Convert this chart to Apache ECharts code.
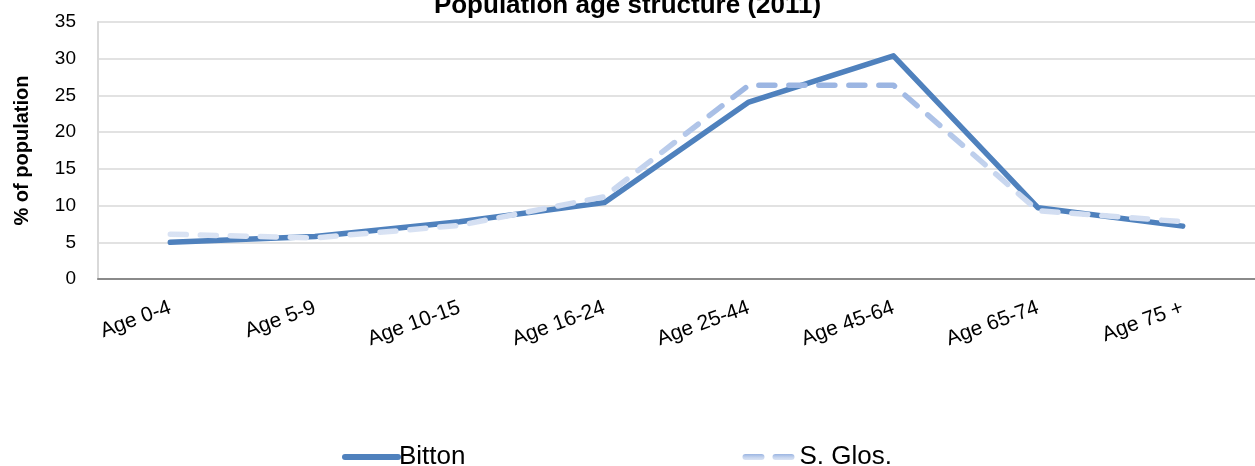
<!DOCTYPE html>
<html>
<head>
<meta charset="utf-8">
<script src="https://cdn.jsdelivr.net/npm/echarts@6/dist/echarts.min.js"></script>
<style>
  html, body { margin: 0; padding: 0; background: #fff; }
  #chart { width: 1255px; height: 466px; }
</style>
</head>
<body>
<div id="chart"></div>
<script>
// categories and values
var ageGroups = ["Age 0-4", "Age 5-9", "Age 10-15", "Age 16-24", "Age 25-44", "Age 45-64", "Age 65-74", "Age 75 +"];
var bitton = [5.0, 5.8, 7.8, 10.4, 24.1, 30.4, 9.7, 7.2];
var sGlos = [6.1, 5.6, 7.3, 11.2, 26.4, 26.4, 9.3, 7.8];

var myChart = echarts.init(document.getElementById("chart"));

var option = {
  animation: false,
  title: {
    text: "Population age structure (2011)",
    left: "center",
    top: -12,
    textStyle: { fontFamily: "Liberation Sans", fontSize: 26, fontWeight: "bold", color: "#000" }
  },
  grid: { left: 98, right: -10, top: 22, bottom: 187, containLabel: false },
  legend: {
    left: 337,
    top: 439,
    itemGap: 277,
    itemWidth: 53,
    itemHeight: 14,
    itemStyle: { opacity: 0 },
    lineStyle: { width: 6, cap: "round" },
    textStyle: { fontFamily: "Liberation Sans", fontSize: 26, color: "#000", padding: [0, 0, 0, -4] },
    data: ["Bitton", "S. Glos."]
  },
  xAxis: {
    type: "category",
    data: ageGroups,
    boundaryGap: true,
    axisLine: { lineStyle: { color: "#8a8a8a", width: 2 } },
    axisTick: { show: false },
    axisLabel: {
      interval: 0,
      rotate: 20,
      margin: 28,
      fontFamily: "Liberation Sans",
      fontSize: 21,
      color: "#000"
    }
  },
  yAxis: {
    type: "value",
    min: 0,
    max: 35,
    interval: 5,
    name: "% of population",
    nameLocation: "middle",
    nameGap: 66,
    nameTextStyle: { fontFamily: "Liberation Sans", fontSize: 20, fontWeight: "bold", color: "#000" },
    axisLine: { show: true, lineStyle: { color: "#d9d9d9", width: 2 } },
    axisTick: { show: false },
    axisLabel: { margin: 22, fontFamily: "Liberation Sans", fontSize: 19, color: "#000" },
    splitLine: { lineStyle: { color: "#d9d9d9", width: 1.5 } }
  },
  series: [
    {
      name: "Bitton",
      type: "line",
      data: bitton,
      showSymbol: false,
      symbol: "none",
      z: 2,
      lineStyle: { color: "#4f81bd", width: 5.5, cap: "round", join: "round" },
      itemStyle: { color: "#4f81bd" }
    },
    {
      name: "S. Glos.",
      type: "line",
      data: sGlos,
      showSymbol: false,
      symbol: "none",
      z: 3,
      lineStyle: {
        width: 5.5,
        type: [16, 14],
        cap: "round",
        join: "round",
        color: new echarts.graphic.LinearGradient(0, 0, 0, 1, [
          { offset: 0, color: "#9bb5e2" },
          { offset: 0.55, color: "#c5d4ee" },
          { offset: 1, color: "#dbe4f4" }
        ])
      },
      itemStyle: { color: "#b8cbeb" }
    }
  ]
};

myChart.setOption(option);
</script>
</body>
</html>
